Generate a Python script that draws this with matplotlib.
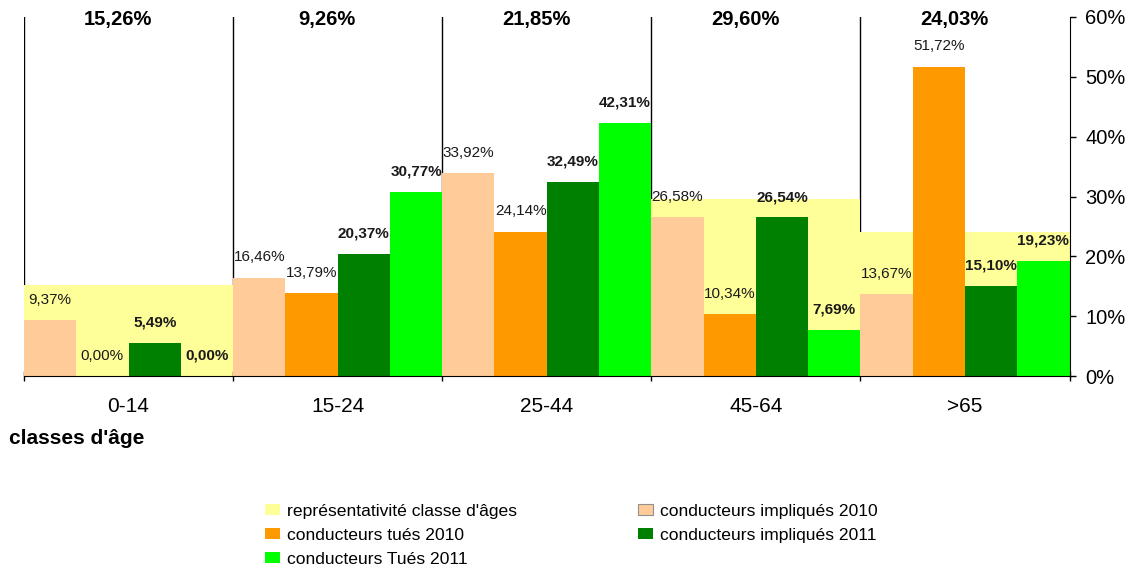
import matplotlib
matplotlib.use("Agg")
import matplotlib.pyplot as plt
from matplotlib.patches import Patch
from matplotlib.ticker import FixedLocator, FuncFormatter

plt.rcParams['font.family'] = ['Liberation Sans', 'DejaVu Sans']

# Age classes and shares (%)
categories = ["0-14", "15-24", "25-44", "45-64", ">65"]
representativite = [15.26, 9.26, 21.85, 29.60, 24.03]
impliques_2010 = [9.37, 16.46, 33.92, 26.58, 13.67]
tues_2010 = [0.00, 13.79, 24.14, 10.34, 51.72]
impliques_2011 = [5.49, 20.37, 32.49, 26.54, 15.10]
tues_2011 = [0.00, 30.77, 42.31, 7.69, 19.23]

series_names = ["représentativité classe d'âges", "conducteurs impliqués 2010",
                "conducteurs tués 2010", "conducteurs impliqués 2011",
                "conducteurs Tués 2011"]
col_yellow = "#FFFF99"
col_peach = "#FFCC99"
col_orange = "#FF9900"
col_dgreen = "#008000"
col_lime = "#00FF00"


def fr_pct(v):
    return f"{v:.2f}".replace(".", ",") + "%"


fig = plt.figure(figsize=(11.27, 5.70), dpi=100)
ax = fig.add_axes([24 / 1127, 1 - 376 / 570, (1069.5 - 24) / 1127, (376 - 17) / 570])

x = list(range(len(categories)))

# Background: representativity of each age class, spanning the whole group
ax.bar(x, representativite, width=1.0, color=col_yellow, zorder=1)

# Group separators, drawn behind the bars
for i in x:
    ax.plot([i - 0.5, i - 0.5], [0, 60], color="black", lw=1.0, zorder=0.5)

w = 0.25
groups = [
    (impliques_2010, col_peach, -1.5, "normal"),
    (tues_2010, col_orange, -0.5, "normal"),
    (impliques_2011, col_dgreen, 0.5, "bold"),
    (tues_2011, col_lime, 1.5, "bold"),
]
for vals, col, off, weight in groups:
    xs = [i + off * w for i in x]
    ax.bar(xs, vals, width=w, color=col, zorder=2)
    for xi, v in zip(xs, vals):
        ax.annotate(fr_pct(v), (xi, v), xytext=(0, 9.5), textcoords="offset points",
                    ha="center", va="bottom", fontsize=11, color="#1a1a1a",
                    fontweight=weight, zorder=5)

# Representativity values across the top
for i, v in zip(x, representativite):
    ax.text(i - 0.05, 59.55, fr_pct(v), ha="center", va="center",
            fontsize=14.5, fontweight="bold", color="black")

ax.set_xlim(-0.5, 4.5)
ax.set_ylim(0, 60)

# Axes styling
for s in ("left", "top"):
    ax.spines[s].set_visible(False)
ax.spines["bottom"].set_color("black")
ax.spines["right"].set_color("black")
ax.spines["bottom"].set_zorder(6)

ax.set_xticks(x)
ax.set_xticklabels(categories, fontsize=15)
ax.xaxis.set_minor_locator(FixedLocator([i - 0.5 for i in x] + [4.5]))
ax.tick_params(axis="x", which="major", length=0, pad=15)
ax.tick_params(axis="x", which="minor", length=7, direction="inout", width=1)

ax.yaxis.tick_right()
ax.set_yticks(range(0, 61, 10))
ax.yaxis.set_major_formatter(FuncFormatter(lambda v, p: f"{int(v)}%"))
ax.tick_params(axis="y", which="major", length=4.5, width=1, direction="out",
               pad=7, labelsize=14.5)

fig.text(9 / 1127, 1 - 438 / 570, "classes d'âge", fontsize=15, fontweight="bold",
         ha="left", va="center")

handles = [
    Patch(facecolor=col_yellow, label=series_names[0]),
    Patch(facecolor=col_orange, label=series_names[2]),
    Patch(facecolor=col_lime, label=series_names[4]),
    Patch(facecolor=col_peach, edgecolor="#909090", linewidth=0.8, label=series_names[1]),
    Patch(facecolor=col_dgreen, label=series_names[3]),
]
fig.legend(handles=handles, loc="upper left", bbox_to_anchor=(265 / 1127, 1 - 504 / 570),
           ncol=2, frameon=False, fontsize=12.6, borderpad=0, borderaxespad=0,
           handlelength=0.85, handleheight=0.6, handletextpad=0.4,
           labelspacing=0.5, columnspacing=6.9)

fig.savefig("out.png", dpi=100)
